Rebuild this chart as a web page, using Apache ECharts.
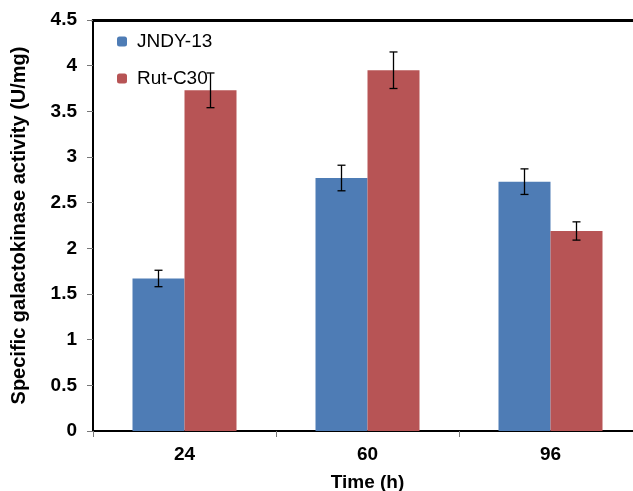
<!DOCTYPE html>
<html>
<head>
<meta charset="utf-8">
<script src="https://cdn.jsdelivr.net/npm/echarts@6/dist/echarts.min.js"></script>
<style>
  html, body { margin: 0; padding: 0; background: #fff; }
  #chart { width: 633px; height: 491px; }
</style>
</head>
<body>
<div id="chart"></div>
<script>
const categories = ['24', '60', '96']
const jndy = [1.67, 2.77, 2.73]
const jndyErr = [0.09, 0.14, 0.14]
const rut = [3.73, 3.95, 2.19]
const rutErr = [0.19, 0.20, 0.10]

const BAR_W = 52
const font = 'Arial, "Liberation Sans", sans-serif'

// error bars drawn next to each bar (offset = half the bar width)
function errorSeries(name, values, errs, offset) {
  return {
    type: 'custom',
    name: name + ' err',
    z: 5,
    silent: true,
    data: values.map((v, i) => [i, v - errs[i], v + errs[i]]),
    renderItem: (params, api) => {
      const lo = api.coord([api.value(0), api.value(1)])
      const hi = api.coord([api.value(0), api.value(2)])
      const x = lo[0] + offset
      const cap = 4
      const style = { stroke: '#000', lineWidth: 1.3 }
      return {
        type: 'group',
        children: [
          { type: 'line', shape: { x1: x, y1: lo[1], x2: x, y2: hi[1] }, style },
          { type: 'line', shape: { x1: x - cap, y1: lo[1], x2: x + cap, y2: lo[1] }, style },
          { type: 'line', shape: { x1: x - cap, y1: hi[1], x2: x + cap, y2: hi[1] }, style }
        ]
      }
    }
  }
}

const chart = echarts.init(document.getElementById('chart'))
chart.setOption({
  animation: false,
  textStyle: { fontFamily: font },
  grid: { left: 93, width: 549, top: 20, bottom: 60, outerBoundsMode: 'none', containLabel: false },
  legend: {
    orient: 'vertical',
    left: 112,
    top: 27,
    itemWidth: 10,
    itemHeight: 10,
    itemGap: 18,
    data: ['JNDY-13', 'Rut-C30'],
    textStyle: { fontSize: 19, color: '#000', fontFamily: font, padding: [0, 0, 0, 5] }
  },
  xAxis: [
    {
      type: 'category',
      data: categories,
      name: 'Time (h)',
      nameLocation: 'middle',
      nameGap: 42,
      nameTextStyle: { fontSize: 19, fontWeight: 'bold', color: '#000' },
      axisLine: { lineStyle: { color: '#000', width: 2 } },
      axisTick: { show: true, length: 6, lineStyle: { color: '#777' } },
      axisLabel: { fontSize: 19, fontWeight: 'bold', color: '#000', margin: 14 }
    },
    {
      // top frame line
      type: 'category',
      position: 'top',
      data: categories,
      axisLine: { lineStyle: { color: '#000', width: 3 } },
      axisTick: { show: false },
      axisLabel: { show: false }
    }
  ],
  yAxis: {
    type: 'value',
    min: 0,
    max: 4.5,
    interval: 0.5,
    name: 'Specific galactokinase activity (U/mg)',
    nameLocation: 'middle',
    nameGap: 64,
    nameTextStyle: { fontSize: 20, fontWeight: 'bold', color: '#000' },
    axisLine: { show: true, lineStyle: { color: '#000', width: 2 } },
    axisTick: { show: true, length: 6, lineStyle: { color: '#777' } },
    splitLine: { show: false },
    axisLabel: { fontSize: 19, fontWeight: 'bold', color: '#000', margin: 16 }
  },
  series: [
    {
      name: 'JNDY-13',
      type: 'bar',
      data: jndy,
      barWidth: BAR_W,
      barGap: '0%',
      itemStyle: { color: '#4e7cb5' }
    },
    {
      name: 'Rut-C30',
      type: 'bar',
      data: rut,
      barWidth: BAR_W,
      barGap: '0%',
      itemStyle: { color: '#b75455' }
    },
    errorSeries('JNDY-13', jndy, jndyErr, -BAR_W / 2),
    errorSeries('Rut-C30', rut, rutErr, BAR_W / 2)
  ]
})
</script>
</body>
</html>
